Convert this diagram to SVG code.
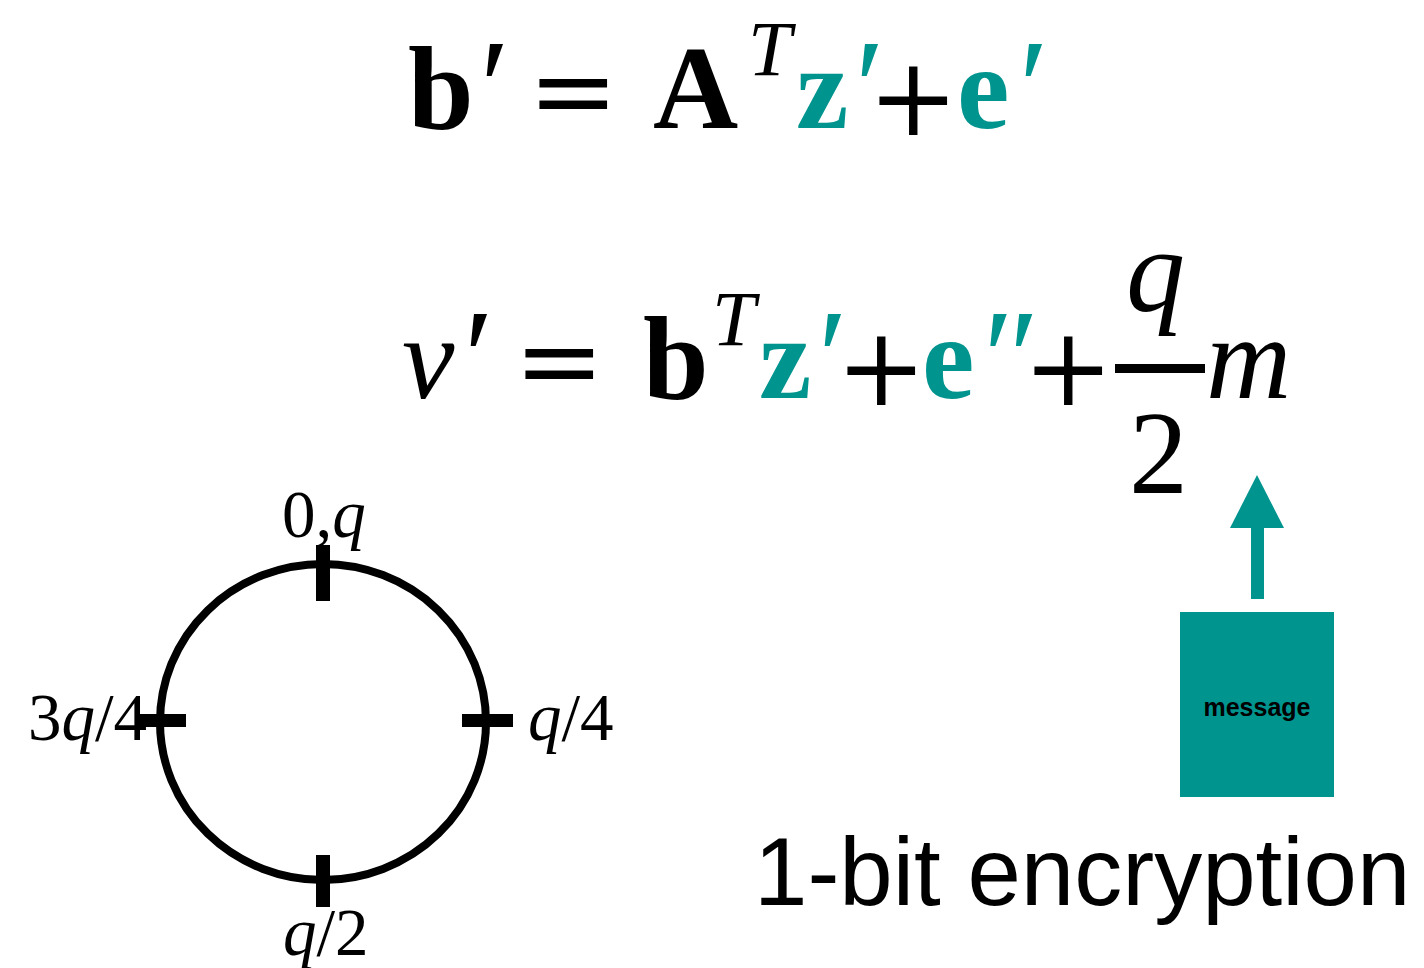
<svg xmlns="http://www.w3.org/2000/svg" width="1424" height="968" viewBox="0 0 1424 968">
<style>
.bf{font-family:"Liberation Serif",serif;font-weight:bold;font-size:118px}
.it{font-family:"Liberation Serif",serif;font-style:italic;font-size:118px}
.rm{font-family:"Liberation Serif",serif;font-size:118px}
.op{font-family:"DejaVu Serif",serif;font-size:108px}
.pr{font-family:"Liberation Serif",serif;font-size:136px}
.sup{font-family:"Liberation Serif",serif;font-style:italic;font-size:78px}
.teal{fill:#00948F}
.lbl{font-family:"Liberation Serif",serif;font-size:67px}
.lbl .q{font-style:italic}
.cap{font-family:"Liberation Sans",Arial,sans-serif;font-size:96px}
</style>
<rect width="1424" height="968" fill="#fff"/>
<g id="eq1">
<text class="bf" x="408" y="128">b</text>
<text class="pr" x="480" y="133">′</text>
<text class="op" x="528" y="128">=</text>
<text class="bf" x="653" y="128">A</text>
<text class="sup" x="748" y="75">T</text>
<text class="bf teal" x="796" y="128" font-size="124">z</text>
<text class="pr teal" x="855" y="133">′</text>
<text class="op" x="868" y="135">+</text>
<text class="bf teal" x="957" y="128" font-size="124">e</text>
<text class="pr teal" x="1019" y="133">′</text>
</g>
<g id="eq2">
<text class="it" x="402" y="398">v</text>
<text class="pr" x="464" y="403">′</text>
<text class="op" x="514" y="398">=</text>
<text class="bf" x="643" y="398">b</text>
<text class="sup" x="712" y="345">T</text>
<text class="bf teal" x="759" y="398" font-size="124">z</text>
<text class="pr teal" x="818" y="403">′</text>
<text class="op" x="836" y="405">+</text>
<text class="bf teal" x="922" y="398" font-size="124">e</text>
<text class="pr teal" x="983" y="403">″</text>
<text class="op" x="1023" y="405">+</text>
<rect x="1115" y="364" width="90" height="9" fill="#000"/>
<text class="it" x="1126" y="311" font-size="130">q</text>
<text class="rm" x="1129" y="493" font-size="126">2</text>
<text class="it" x="1206" y="398" font-size="136">m</text>
</g>
<g id="circle">
<ellipse cx="323" cy="722" rx="163" ry="158" fill="none" stroke="#000" stroke-width="8"/>
<rect x="316" y="545" width="14" height="56" fill="#000"/>
<rect x="316" y="855" width="14" height="52" fill="#000"/>
<rect x="137" y="714" width="49" height="13" fill="#000"/>
<rect x="462" y="714" width="51" height="13" fill="#000"/>
<text class="lbl" x="282" y="537">0,<tspan class="q">q</tspan></text>
<text class="lbl" x="28" y="740">3<tspan class="q">q</tspan>/4</text>
<text class="lbl" x="528" y="740"><tspan class="q">q</tspan>/4</text>
<text class="lbl" x="283" y="955"><tspan class="q">q</tspan>/2</text>
</g>
<g id="connectors">
<rect x="1251" y="526" width="13" height="73" fill="#00948F"/>
<polygon points="1257,475 1284,528 1230,528" fill="#00948F"/>
</g>
<g id="message">
<rect x="1180" y="612" width="154" height="185" fill="#00948F"/>
<text x="1257" y="716" text-anchor="middle" font-family="Liberation Sans, Arial, sans-serif" font-weight="bold" font-size="25">message</text>
</g>
<g id="caption">
<text class="cap" x="754" y="905">1-bit encryption</text>
</g>
</svg>
